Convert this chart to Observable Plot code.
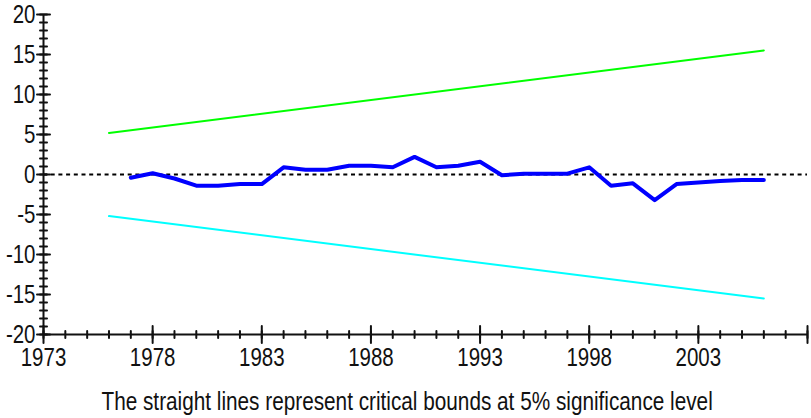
<!DOCTYPE html>
<html>
<head>
<meta charset="utf-8">
<script src="https://cdn.jsdelivr.net/npm/d3@7"></script>
<script src="https://cdn.jsdelivr.net/npm/@observablehq/plot@0.6"></script>
<style>
  html, body { margin: 0; padding: 0; background: #fff; }
  #wrap { position: relative; width: 811px; height: 418px; overflow: hidden; }
  #caption { position: absolute; left: 0; width: 811px; top: 389px; text-align: center;
    font-family: "Liberation Sans", Arial, sans-serif;
    font-size: 25px; line-height: 25px; color: #111; white-space: nowrap;
    transform: scaleX(0.83); transform-origin: 415px 0; }
  svg { display: block; }
</style>
</head>
<body>
<div id="wrap"><div id="chart"></div><div id="caption">The straight lines represent critical bounds at 5% significance level</div></div>
<script>
// CUSUM series
const years = [1977,1978,1979,1980,1981,1982,1983,1984,1985,1986,1987,1988,1989,1990,1991,1992,1993,1994,1995,1996,1997,1998,1999,2000,2001,2002,2003,2004,2005,2006];
const cusum = [-0.4,0.15,-0.5,-1.4,-1.4,-1.2,-1.2,0.9,0.6,0.6,1.1,1.1,0.9,2.2,0.9,1.1,1.6,-0.1,0.1,0.1,0.1,0.9,-1.4,-1.1,-3.2,-1.2,-1.0,-0.8,-0.7,-0.7];
// critical bounds (straight lines)
const boundYears = [1976, 2006];
const upperBound = [5.2, 15.5];
const lowerBound = [-5.2, -15.5];
// axis ticks
const xTickLabels = [1973,1978,1983,1988,1993,1998,2003];
const xMajorTicks = [1973,1978,1983,1988,1993,1998,2003,2008];
const xMinorTicks = d3.range(1973, 2009);
const yTickLabels = [-20,-15,-10,-5,0,5,10,15,20];
const yMinorTicks = d3.range(-20, 21);

const series = years.map((y, i) => ({year: y, v: cusum[i]}));
const upper = boundYears.map((y, i) => ({year: y, v: upperBound[i]}));
const lower = boundYears.map((y, i) => ({year: y, v: lowerBound[i]}));

const font = '"Liberation Sans", Arial, sans-serif';
const tickShape = {draw(ctx, l) { ctx.moveTo(0, 0); ctx.lineTo(0, -l); }};

const chart = Plot.plot({
  width: 811,
  height: 372,
  marginLeft: 43,
  marginRight: 4,
  marginTop: 14,
  marginBottom: 38,
  style: {fontFamily: font, background: "white"},
  x: {domain: [1973, 2008]},
  y: {domain: [-20, 20]},
  marks: [
    Plot.ruleY([0], {stroke: "black", strokeWidth: 2, strokeDasharray: "4,3.7"}),
    Plot.line(upper, {x: "year", y: "v", stroke: "#00ff00", strokeWidth: 2}),
    Plot.line(lower, {x: "year", y: "v", stroke: "#00ffff", strokeWidth: 2}),
    Plot.line(series, {x: "year", y: "v", stroke: "#0000ff", strokeWidth: 4}),
    Plot.ruleY([-20], {stroke: "#111", strokeWidth: 2}),
    Plot.ruleX([1973], {stroke: "#111", strokeWidth: 2}),
    Plot.vector(xMinorTicks, {x: d => d, y: () => -20, length: 7, anchor: "middle", rotate: 0, shape: tickShape, stroke: "#111", strokeWidth: 2}),
    Plot.vector(xMajorTicks, {x: d => d, y: () => -20, length: 17, anchor: "middle", rotate: 0, shape: tickShape, stroke: "#111", strokeWidth: 2}),
    Plot.vector(yMinorTicks, {x: () => 1973, y: d => d, length: 7, anchor: "middle", rotate: 90, shape: tickShape, stroke: "#111", strokeWidth: 2}),
    Plot.vector(yTickLabels, {x: () => 1973, y: d => d, length: 13, anchor: "middle", rotate: 90, shape: tickShape, stroke: "#111", strokeWidth: 2}),
    Plot.axisX({ticks: xTickLabels, tickSize: 0, tickPadding: 14, tickFormat: d => String(d), fontSize: 25, fill: "#111", label: null}),
    Plot.axisY({ticks: yTickLabels, tickSize: 0, tickPadding: 8, tickFormat: d => String(d), fontSize: 25, fill: "#111", label: null})
  ]
});
document.getElementById("chart").appendChild(chart);
// condense the tick label glyphs (narrow face)
chart.querySelectorAll("text").forEach(t => {
  const len = t.getComputedTextLength();
  if (len > 0) {
    t.setAttribute("textLength", (len * 0.82).toFixed(1));
    t.setAttribute("lengthAdjust", "spacingAndGlyphs");
  }
});
</script>
</body>
</html>
